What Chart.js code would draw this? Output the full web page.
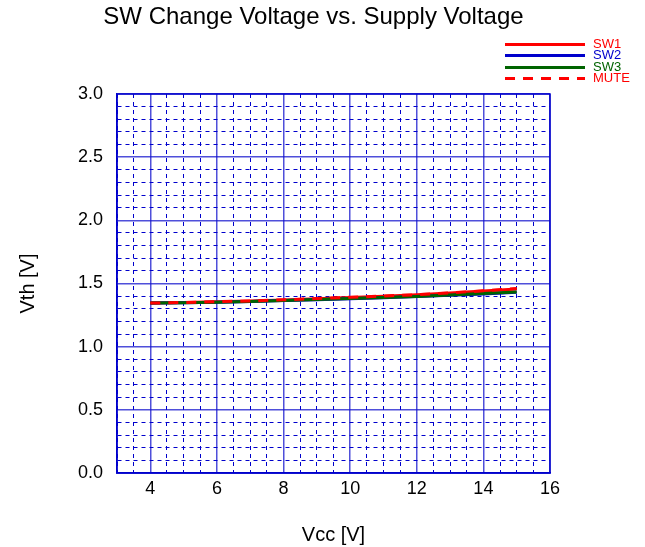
<!DOCTYPE html>
<html>
<head>
<meta charset="utf-8">
<script src="https://cdn.jsdelivr.net/npm/chart.js@4/dist/chart.umd.min.js"></script>
<style>
  html, body { margin: 0; padding: 0; background: #fff; }
  #wrap { position: relative; width: 645px; height: 547px; font-family: "Liberation Sans", Arial, sans-serif; }
  #title { position: absolute; left: 0; width: 627px; top: 2px; text-align: center; font-size: 24px; color: #000; white-space: nowrap; }
  #legend { position: absolute; left: 505px; top: 38px; }
  .row { position: relative; height: 11.4px; }
  .ln { position: absolute; left: 0; top: 5px; width: 80px; height: 3px; }
  .tx { position: absolute; left: 88px; top: -1px; font-size: 13px; line-height: 13px; }
</style>
</head>
<body>
<div id="wrap">
  <canvas id="c" width="645" height="547"></canvas>
  <div id="title">SW Change Voltage vs. Supply Voltage</div>
  <div id="legend"></div>
</div>
<script>
const vcc  = [4, 5, 6, 7, 8, 9, 10, 11, 12, 13, 14, 15];
const sw1  = [1.345, 1.350, 1.355, 1.361, 1.370, 1.380, 1.390, 1.400, 1.410, 1.425, 1.440, 1.456];
const sw2  = [1.345, 1.348, 1.352, 1.358, 1.365, 1.372, 1.380, 1.388, 1.397, 1.406, 1.416, 1.430];
const sw3  = [1.345, 1.348, 1.352, 1.358, 1.366, 1.373, 1.381, 1.389, 1.398, 1.408, 1.420, 1.433];
const mute = [1.345, 1.350, 1.356, 1.362, 1.371, 1.381, 1.391, 1.401, 1.411, 1.426, 1.442, 1.460];
const seriesNames = ['SW1', 'SW2', 'SW3', 'MUTE'];
const seriesColors = ['#ff0000', '#0000cc', '#006400', '#ff0000'];
const xTickLabels = [4, 6, 8, 10, 12, 14, 16];
const yTickLabels = [0.0, 0.5, 1.0, 1.5, 2.0, 2.5, 3.0];

const FONT = '"Liberation Sans", Arial, sans-serif';
const pts = arr => vcc.map((x, i) => ({x: x, y: arr[i]}));

// legend (HTML)
const leg = document.getElementById('legend');
seriesNames.forEach((n, i) => {
  const r = document.createElement('div'); r.className = 'row';
  const l = document.createElement('div'); l.className = 'ln';
  if (n === 'MUTE') {
    l.style.background = 'repeating-linear-gradient(to right, ' + seriesColors[i] + ' 0px, ' + seriesColors[i] + ' 10px, transparent 10px, transparent 18px)';
  } else {
    l.style.background = seriesColors[i];
  }
  const t = document.createElement('div'); t.className = 'tx';
  t.style.color = seriesColors[i]; t.textContent = n;
  r.appendChild(l); r.appendChild(t); leg.appendChild(r);
});

const isMajorX = v => xTickLabels.some(t => Math.abs(t - v) < 1e-6);
const isMajorY = v => yTickLabels.some(t => Math.abs(t - v) < 1e-6);
const majorColor = 'rgba(20,20,205,0.75)';
const minorColor = '#0000cc';

const frame = {
  id: 'frame',
  afterDatasetsDraw(chart) {
    const a = chart.chartArea, ctx = chart.ctx;
    ctx.save();
    ctx.strokeStyle = '#0000cc'; ctx.lineWidth = 1.5;
    ctx.strokeRect(a.left, a.top, a.right - a.left, a.bottom - a.top);
    ctx.restore();
  }
};

new Chart(document.getElementById('c'), {
  type: 'line',
  data: {
    datasets: [
      {label: 'SW1', data: pts(sw1), borderColor: seriesColors[0], borderWidth: 3, order: 3},
      {label: 'SW2', data: pts(sw2), borderColor: seriesColors[1], borderWidth: 3, order: 2},
      {label: 'SW3', data: pts(sw3), borderColor: seriesColors[2], borderWidth: 3, order: 1},
      {label: 'MUTE', data: pts(mute), borderColor: seriesColors[3], borderWidth: 3, borderDash: [10, 8], order: 0}
    ]
  },
  options: {
    responsive: false,
    animation: false,
    devicePixelRatio: 1,
    layout: { padding: { top: 94, left: 0, right: 95, bottom: 0 } },
    elements: { point: { radius: 0, hoverRadius: 0 }, line: { tension: 0, fill: false } },
    plugins: { legend: { display: false }, title: { display: false }, tooltip: { enabled: false } },
    scales: {
      x: {
        type: 'linear', min: 3, max: 16,
        ticks: {
          stepSize: 0.5, autoSkip: false, maxRotation: 0, maxTicksLimit: 1000,
          color: '#000', font: { size: 18, family: FONT }, padding: 5,
          callback: v => isMajorX(v) ? String(v) : ''
        },
        grid: {
          drawTicks: false,
          color: c => (c.tick && isMajorX(c.tick.value)) ? majorColor : minorColor,
          lineWidth: c => (c.tick && isMajorX(c.tick.value)) ? 1.5 : 1
        },
        border: {
          display: true, color: '#0000cc', width: 1.5,
          dash: c => (c.tick && !isMajorX(c.tick.value)) ? [4, 4] : []
        },
        title: { display: true, text: 'Vcc [V]', color: '#000', font: { size: 20, family: FONT }, padding: { top: 5, bottom: 0 } },
        afterFit: s => { s.height = 74; }
      },
      y: {
        type: 'linear', min: 0, max: 3,
        ticks: {
          stepSize: 0.1, autoSkip: false, maxTicksLimit: 1000,
          color: '#000', font: { size: 18, family: FONT }, padding: 14,
          callback: v => isMajorY(v) ? v.toFixed(1) : ''
        },
        grid: {
          drawTicks: false,
          color: c => (c.tick && isMajorY(c.tick.value)) ? majorColor : minorColor,
          lineWidth: c => (c.tick && isMajorY(c.tick.value)) ? 1.5 : 1
        },
        border: {
          display: true, color: '#0000cc', width: 1.5,
          dash: c => (c.tick && !isMajorY(c.tick.value)) ? [4, 4] : []
        },
        title: { display: true, text: 'Vth [V]', color: '#000', font: { size: 20, family: FONT }, padding: { top: 16, bottom: 0 } },
        afterFit: s => { s.width = 117; }
      }
    }
  },
  plugins: [frame]
});
</script>
</body>
</html>
